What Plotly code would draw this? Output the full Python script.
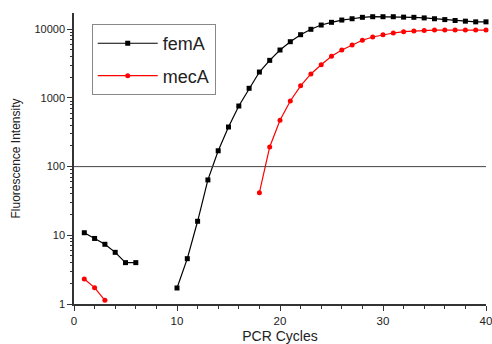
import plotly.graph_objects as go

cycles = list(range(1, 41))

femA = [10.9, 9.0, 7.4, 5.65, 4.0, 4.0, None, None, None, 1.71,
        4.57, 16.0, 64, 170, 377, 762, 1380, 2380, 3520, 4980,
        6580, 8320, 9970, 11500, 12600, 13600, 14200, 14900, 15200, 15200,
        15200, 15000, 14900, 14600, 14200, 13800, 13400, 13100, 12800, 12800]

mecA = [2.31, 1.73, 1.13, None, None, None, None, None, None, None,
        None, None, None, None, None, None, None, 41.7, 193, 472,
        902, 1500, 2230, 3040, 4030, 4980, 5900, 6900, 7700, 8300,
        8800, 9200, 9400, 9600, 9730, 9730, 9730, 9730, 9730, 9730]

threshold = 100
x_ticks = [0, 10, 20, 30, 40]
y_ticks = [1, 10, 100, 1000, 10000]
y_tick_labels = ["1", "10", "100", "1000", "10000"]
y_minor = [m * 10 ** d for d in range(0, 5) for m in range(2, 10)]

FONT = "Liberation Sans, Arial, sans-serif"

fig = go.Figure()
fig.add_trace(go.Scatter(
    x=cycles, y=femA, name="femA", mode="lines+markers", legendgroup="a",
    line=dict(color="black", width=1.2),
    marker=dict(symbol="square", size=5, color="black"),
    connectgaps=False, cliponaxis=False))
fig.add_trace(go.Scatter(
    x=cycles, y=mecA, name="mecA", mode="lines+markers", legendgroup="b",
    line=dict(color="#ff0000", width=1.2),
    marker=dict(symbol="circle", size=5, color="#ff0000"),
    connectgaps=False, cliponaxis=False))

fig.add_shape(type="line", xref="x", yref="y", x0=0, x1=40, y0=threshold, y1=threshold,
              line=dict(color="#444444", width=1))

fig.update_layout(
    width=492, height=344,
    margin=dict(l=74, r=6, t=13, b=40, autoexpand=False),
    paper_bgcolor="white", plot_bgcolor="white",
    font=dict(family=FONT, color="#222222", size=11.5),
    showlegend=True,
    legend=dict(
        x=0.043, y=0.962, xanchor="left", yanchor="top",
        bordercolor="#888888", borderwidth=1, bgcolor="white",
        font=dict(family=FONT, size=18, color="#222222"),
        itemwidth=60, tracegroupgap=6,
    ),
    xaxis=dict(
        range=[0, 40], showgrid=False, zeroline=False,
        showline=True, linecolor="#333333", linewidth=1.5,
        ticks="outside", ticklen=5, tickwidth=1, tickcolor="#333333",
        tickvals=x_ticks, ticklabeloverflow="allow",
        minor=dict(dtick=2, ticks="outside", ticklen=3, tickcolor="#333333", tickwidth=1),
        title=dict(text="PCR Cycles", font=dict(size=14), standoff=7),
        tickfont=dict(size=11.5),
        automargin=False,
    ),
    yaxis=dict(
        type="log", range=[0, 4.236], showgrid=False, zeroline=False,
        showline=True, linecolor="#333333", linewidth=1.5,
        ticks="outside", ticklen=5, tickwidth=1, tickcolor="#333333",
        tickvals=y_ticks, ticktext=y_tick_labels, ticklabeloverflow="allow",
        minor=dict(tickvals=y_minor, ticks="outside", ticklen=2.5, tickcolor="#333333", tickwidth=1),
        title=dict(text="Fluorescence Intensity", font=dict(size=12), standoff=11),
        tickfont=dict(size=11),
        automargin=False,
    ),
)

fig.write_html("out.html", config={"displayModeBar": False},
               post_script="document.body.style.margin='0';document.body.style.padding='0';")
